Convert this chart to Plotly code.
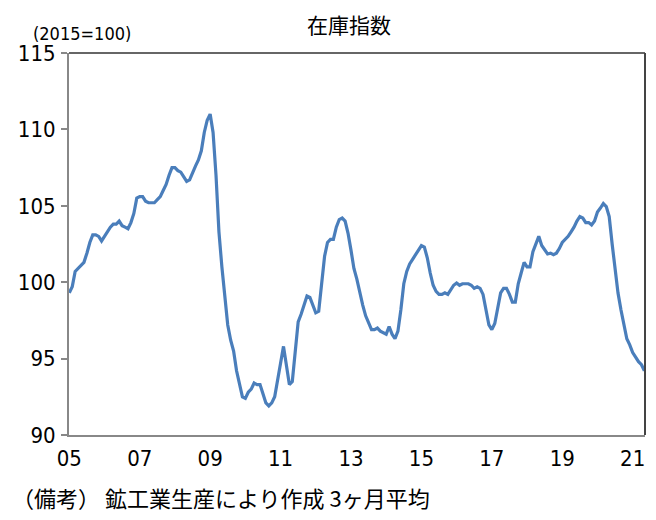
import plotly.graph_objects as go

# Monthly inventory index (2015=100), 3-month average, Jan 2005 - May 2021
values = [
    99.3, 99.7, 100.7, 100.9, 101.1, 101.3, 101.9, 102.6, 103.1, 103.1, 103.0, 102.7,   # 2005
    103.0, 103.3, 103.6, 103.8, 103.8, 104.0, 103.7, 103.6, 103.5, 103.9, 104.5, 105.5, # 2006
    105.6, 105.6, 105.3, 105.2, 105.2, 105.2, 105.4, 105.6, 106.0, 106.4, 107.0, 107.5, # 2007
    107.5, 107.3, 107.2, 106.9, 106.6, 106.7, 107.2, 107.6, 108.0, 108.6, 109.8, 110.6, # 2008
    111.0, 109.8, 107.0, 103.3, 101.0, 98.8, 97.2, 96.2, 95.5, 94.2, 93.3, 92.5,        # 2009
    92.4, 92.8, 93.0, 93.4, 93.3, 93.3, 92.7, 92.1, 91.9, 92.1, 92.5, 93.5,             # 2010
    94.7, 95.8, 94.4, 93.3, 93.5, 95.7, 97.4, 97.9, 98.5, 99.1, 99.0, 98.5,             # 2011
    98.0, 98.1, 99.8, 101.7, 102.6, 102.8, 102.8, 103.6, 104.1, 104.2, 104.0, 103.2,    # 2012
    102.1, 100.9, 100.2, 99.3, 98.5, 97.8, 97.3, 96.9, 96.9, 97.0, 96.8, 96.7,          # 2013
    96.6, 97.1, 96.6, 96.3, 96.8, 98.2, 99.9, 100.7, 101.2, 101.5, 101.8, 102.1,        # 2014
    102.4, 102.3, 101.6, 100.6, 99.8, 99.4, 99.2, 99.2, 99.3, 99.2, 99.5, 99.8,         # 2015
    99.95, 99.8, 99.9, 99.9, 99.9, 99.8, 99.6, 99.7, 99.6, 99.2, 98.1, 97.2,            # 2016
    96.9, 97.3, 98.3, 99.3, 99.6, 99.6, 99.2, 98.7, 98.7, 99.9, 100.6, 101.3,           # 2017
    101.0, 101.0, 102.0, 102.5, 103.0, 102.4, 102.1, 101.85, 101.9, 101.8, 101.9, 102.2, # 2018
    102.6, 102.8, 103.0, 103.3, 103.6, 104.0, 104.3, 104.2, 103.9, 103.9, 103.75, 104.0, # 2019
    104.6, 104.85, 105.15, 104.95, 104.3, 102.5, 100.7, 99.3, 98.2, 97.1, 96.3, 95.9,   # 2020
    95.4, 95.1, 94.8, 94.6, 94.2,                                                         # 2021
]
months = list(range(len(values)))
tick_labels = ["05", "07", "09", "11", "13", "15", "17", "19", "21"]
tick_positions = [i * 24 for i in range(len(tick_labels))]
y_ticks = [90, 95, 100, 105, 110, 115]

title_text = "在庫指数"
unit_text = "(2015=100)"
note_text = "（備考） 鉱工業生産により作成 3ヶ月平均"

FONT = "Liberation Sans Narrow, DejaVu Sans Condensed, Noto Sans CJK JP, sans-serif"
JP = "Noto Sans CJK JP, sans-serif"

fig = go.Figure()
fig.add_trace(go.Scatter(
    x=months, y=values, mode="lines",
    line=dict(color="#4A7EBB", width=3.2),
    hoverinfo="skip", showlegend=False,
))

fig.update_layout(
    width=656, height=520,
    margin=dict(l=69, r=11, t=53, b=85),
    paper_bgcolor="white", plot_bgcolor="white",
    font=dict(family=FONT, color="black"),
    showlegend=False,
)
fig.update_xaxes(
    range=[-0.1, 196.2],
    tickmode="array", tickvals=tick_positions, ticktext=tick_labels,
    ticks="", showgrid=False, zeroline=False,
    showline=True, linecolor="#888888", linewidth=2,
    tickfont=dict(size=22, family=FONT), ticklabelstandoff=3,
)
fig.update_yaxes(
    range=[90, 115],
    tickmode="array", tickvals=y_ticks,
    ticks="outside", ticklen=6, tickcolor="#888888", tickwidth=1.5,
    showgrid=False, zeroline=False,
    showline=True, linecolor="#888888", linewidth=2,
    tickfont=dict(size=22, family=FONT), ticklabelstandoff=1,
)
# darker top and right frame
fig.add_shape(type="line", xref="paper", yref="paper", x0=0, x1=1, y0=1, y1=1,
              line=dict(color="#333333", width=1.5))
fig.add_shape(type="line", xref="paper", yref="paper", x0=1, x1=1, y0=0, y1=1,
              line=dict(color="#444444", width=2))

fig.add_annotation(text=title_text, xref="paper", yref="paper",
                   x=(349 - 69) / 576, y=1, yshift=29, yanchor="middle",
                   showarrow=False, font=dict(size=21, family=JP))
fig.add_annotation(text=unit_text, xref="paper", yref="paper",
                   x=-69 / 576 + 31 / 576, xanchor="left", y=1, yshift=20, yanchor="middle",
                   showarrow=False, font=dict(size=18, family=FONT))
fig.add_annotation(text=note_text, xref="paper", yref="paper",
                   x=-69 / 576 + 10 / 576, xanchor="left", y=0, yshift=-62, yanchor="middle",
                   showarrow=False, font=dict(size=22, family=JP))

fig.write_html("out.html")
